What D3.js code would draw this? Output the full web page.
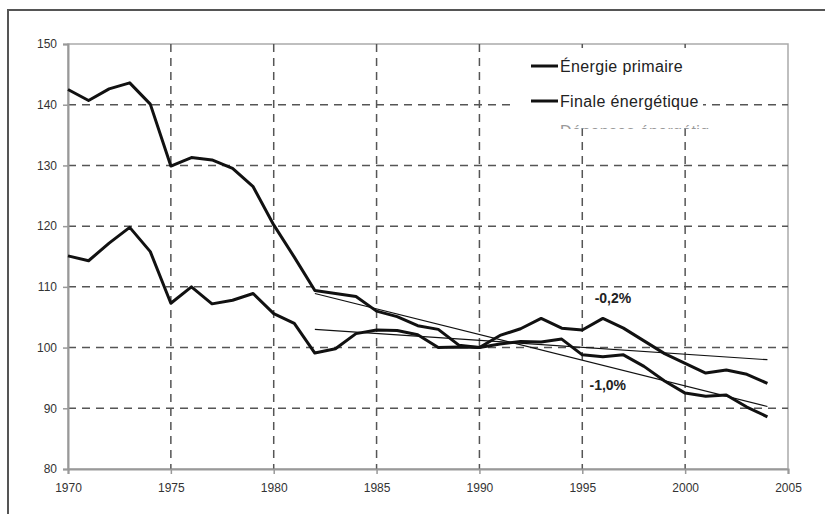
<!DOCTYPE html>
<html><head><meta charset="utf-8">
<script src="https://cdn.jsdelivr.net/npm/d3@7/dist/d3.min.js"></script>
<style>body{margin:0;background:#fff}svg{display:block}text{font-family:"Liberation Sans",Arial,sans-serif}</style>
</head><body><svg id="c" width="825" height="514"></svg>
<script>
const years = d3.range(1970, 2005);
const primaire = [142.5,140.7,142.6,143.6,140.1,129.9,131.3,130.9,129.5,126.5,120.2,114.9,109.4,108.9,108.4,106.0,105.1,103.6,103.0,100.4,100.0,100.6,101.0,100.9,101.4,98.8,98.5,98.8,96.9,94.5,92.5,92.0,92.2,90.2,88.6];
const finale = [115.1,114.3,117.2,119.8,115.8,107.3,110.0,107.2,107.8,108.9,105.6,104.0,99.1,99.8,102.3,102.9,102.8,102.1,100.0,100.1,100.0,102.0,103.1,104.8,103.2,102.9,104.8,103.2,101.1,99.0,97.4,95.8,96.3,95.6,94.1];
const trendYears = [1982, 2004];
const trendFaible = [103.0, 98.0];
const trendFort = [108.9, 90.3];
const trendLabels = ["-0,2%", "-1,0%"];
const legendLabels = ["Énergie primaire", "Finale énergétique", "Dépenses énergétiques"];
const xTicks = d3.range(1970, 2006, 5);
const yTicks = d3.range(80, 151, 10);

const svg = d3.select("#c");
const x = d3.scaleLinear().domain([1970, 2005]).range([68, 788]);
const y = d3.scaleLinear().domain([80, 150]).range([469, 44]);

// outer frame
svg.append("path").attr("d", "M8,514V10H825").attr("fill", "none").attr("stroke", "#555").attr("stroke-width", 2);

// plot border
svg.append("rect").attr("x", x(1970)).attr("y", y(150)).attr("width", x(2005) - x(1970)).attr("height", y(80) - y(150))
  .attr("fill", "none").attr("stroke", "#aaa").attr("stroke-width", 1.5);

// grid
const grid = svg.append("g").attr("stroke", "#555").attr("stroke-width", 1.5).attr("stroke-dasharray", "8,6");
xTicks.filter(t => t > 1970 && t < 2005).forEach(t => grid.append("line").attr("x1", x(t)).attr("x2", x(t)).attr("y1", y(150)).attr("y2", y(80)));
yTicks.filter(t => t > 80 && t < 150).forEach(t => grid.append("line").attr("x1", x(1970)).attr("x2", x(2005)).attr("y1", y(t)).attr("y2", y(t)));

// axes
const ax = svg.append("g").attr("transform", `translate(0,${y(80)})`).call(d3.axisBottom(x).tickValues(xTicks).tickFormat(d3.format("d")).tickSize(5).tickPadding(9));
const ay = svg.append("g").attr("transform", `translate(${x(1970)},0)`).call(d3.axisLeft(y).tickValues(yTicks).tickSize(5).tickPadding(6));
[ax, ay].forEach(g => {
  g.select(".domain").attr("stroke", "#999").attr("stroke-width", 2);
  g.selectAll(".tick line").attr("stroke", "#999").attr("stroke-width", 1.5);
  g.selectAll(".tick text").attr("fill", "#333").style("font-size", "12px").style("font-family", "'Liberation Sans',Arial,sans-serif");
});

// legend
const lg = svg.append("g");
lg.append("rect").attr("x", 513).attr("y", 48).attr("width", 190).attr("height", 74).attr("fill", "#fff");
[66, 101].forEach((ly, i) => {
  lg.append("line").attr("x1", 531).attr("x2", 558).attr("y1", ly).attr("y2", ly).attr("stroke", "#111").attr("stroke-width", 3);
  lg.append("text").attr("x", 560).attr("y", ly + 5.5).attr("fill", "#222").style("font-size", "16px").style("letter-spacing", "0.35px").text(legendLabels[i]);
});
svg.append("clipPath").attr("id", "cl").append("rect").attr("x", 540).attr("y", 124).attr("width", 170).attr("height", 5);
svg.append("text").attr("clip-path", "url(#cl)").attr("x", 560).attr("y", 137).attr("fill", "#999").style("font-size", "16px").style("letter-spacing", "0.35px").text(legendLabels[2]);

// series
const line = d3.line().x((d, i) => x(years[i])).y(d => y(d));
[primaire, finale].forEach(s => svg.append("path").datum(s).attr("d", line).attr("fill", "none").attr("stroke", "#111").attr("stroke-width", 3).attr("stroke-linejoin", "round"));

const tline = d3.line().x((d, i) => x(trendYears[i])).y(d => y(d));
[trendFaible, trendFort].forEach(s => svg.append("path").datum(s).attr("d", tline).attr("fill", "none").attr("stroke", "#111").attr("stroke-width", 1.2));

svg.append("text").attr("x", x(1995.6)).attr("y", y(107.3)).style("font-size", "14px").style("font-weight", "bold").attr("fill", "#222").text(trendLabels[0]);
svg.append("text").attr("x", x(1995.35)).attr("y", y(93.0)).style("font-size", "14px").style("font-weight", "bold").attr("fill", "#222").text(trendLabels[1]);
</script></body></html>
